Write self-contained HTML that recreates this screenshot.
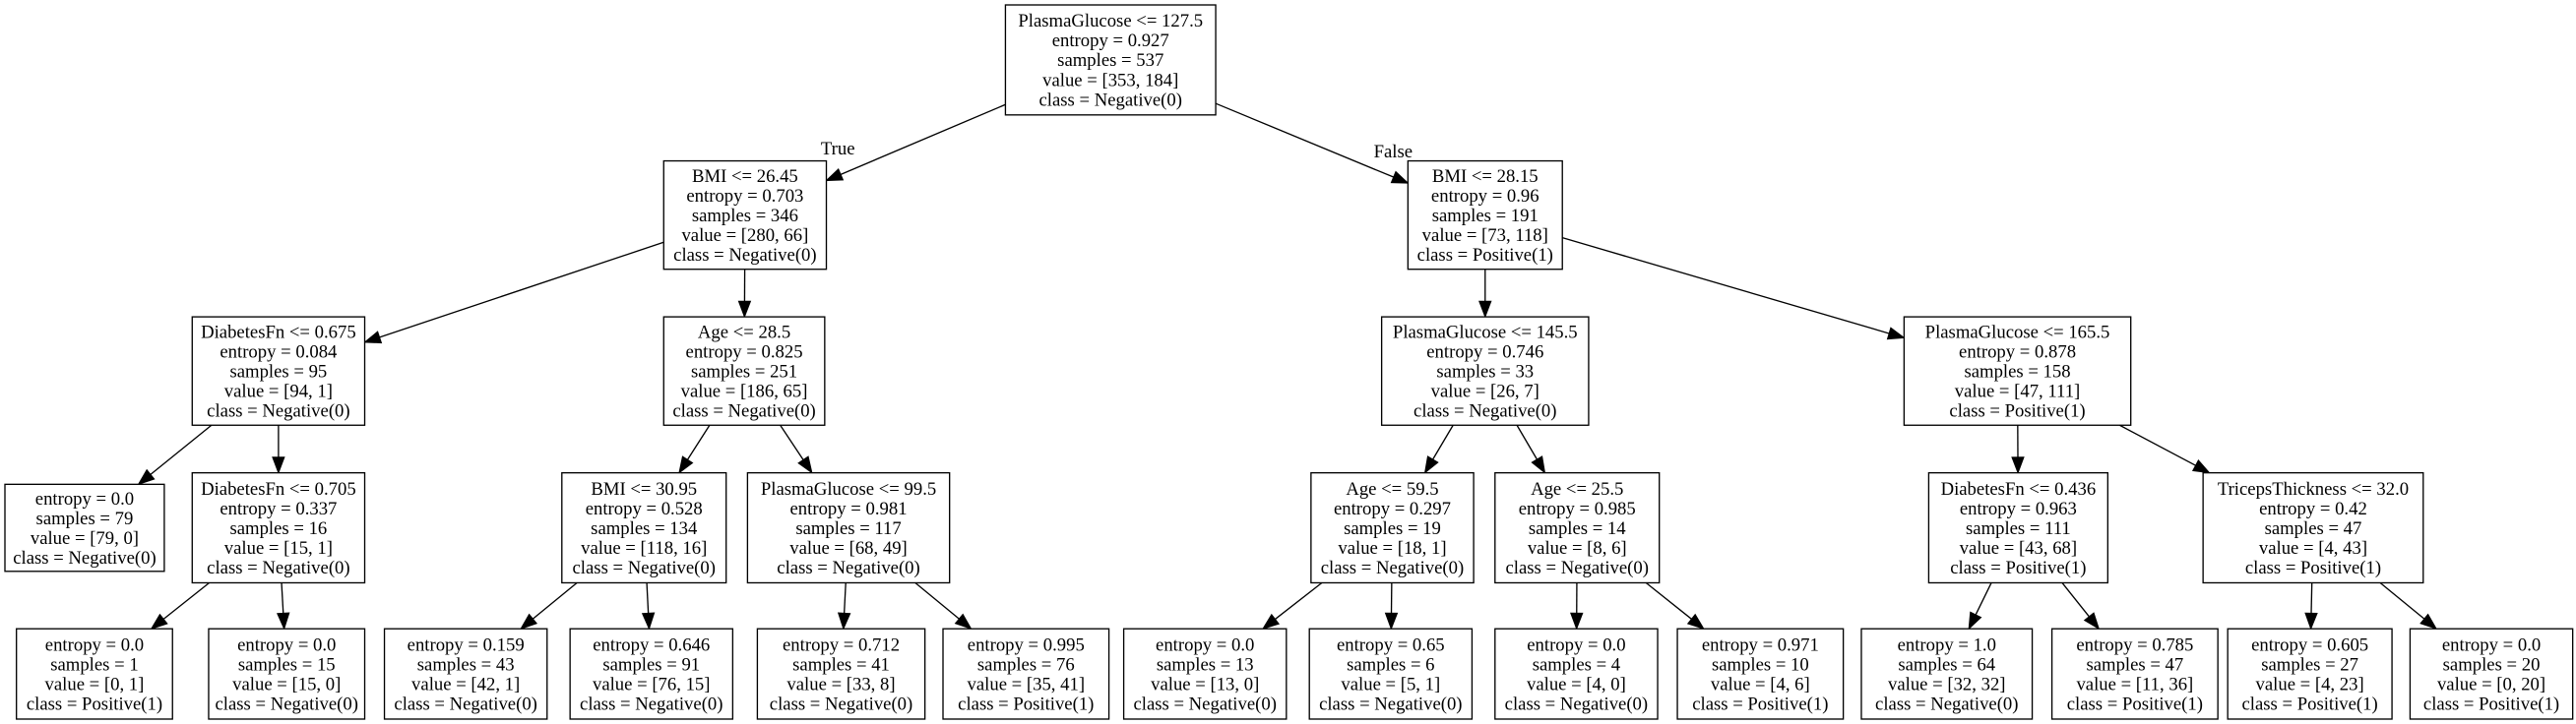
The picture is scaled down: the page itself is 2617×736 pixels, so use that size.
<!DOCTYPE html>
<html><head><meta charset="utf-8"><style>
html,body{margin:0;padding:0;background:#fff;}
svg{display:block;}
text{font-family:"Liberation Serif","Times New Roman",serif;font-size:11.2px;fill:#000;}
</style></head><body>
<svg id="s" xmlns="http://www.w3.org/2000/svg" width="2617" height="736" viewBox="0 0 1568 441" preserveAspectRatio="none">
<rect width="1568" height="441" fill="#fff"/>
<g id="e"></g><g id="n"></g>
<text x="510" y="94" text-anchor="middle">True</text>
<text x="848" y="96" text-anchor="middle">False</text>
</svg>
<script>
var N={
r:[612,740,3,70,["PlasmaGlucose <= 127.5","entropy = 0.927","samples = 537","value = [353, 184]","class = Negative(0)"]],
a:[404,503,98,164,["BMI <= 26.45","entropy = 0.703","samples = 346","value = [280, 66]","class = Negative(0)"]],
b:[857,951,98,164,["BMI <= 28.15","entropy = 0.96","samples = 191","value = [73, 118]","class = Positive(1)"]],
c:[117,222,193,259,["DiabetesFn <= 0.675","entropy = 0.084","samples = 95","value = [94, 1]","class = Negative(0)"]],
d:[404,502,193,259,["Age <= 28.5","entropy = 0.825","samples = 251","value = [186, 65]","class = Negative(0)"]],
f:[841,967,193,259,["PlasmaGlucose <= 145.5","entropy = 0.746","samples = 33","value = [26, 7]","class = Negative(0)"]],
g:[1159,1297,193,259,["PlasmaGlucose <= 165.5","entropy = 0.878","samples = 158","value = [47, 111]","class = Positive(1)"]],
h:[3,100,295,348,["entropy = 0.0","samples = 79","value = [79, 0]","class = Negative(0)"]],
i:[117,222,288,355,["DiabetesFn <= 0.705","entropy = 0.337","samples = 16","value = [15, 1]","class = Negative(0)"]],
j:[342,442,288,355,["BMI <= 30.95","entropy = 0.528","samples = 134","value = [118, 16]","class = Negative(0)"]],
k:[455,578,288,355,["PlasmaGlucose <= 99.5","entropy = 0.981","samples = 117","value = [68, 49]","class = Negative(0)"]],
l:[798,897,288,355,["Age <= 59.5","entropy = 0.297","samples = 19","value = [18, 1]","class = Negative(0)"]],
m:[910,1010,288,355,["Age <= 25.5","entropy = 0.985","samples = 14","value = [8, 6]","class = Negative(0)"]],
o:[1174,1283,288,355,["DiabetesFn <= 0.436","entropy = 0.963","samples = 111","value = [43, 68]","class = Positive(1)"]],
p:[1341,1475,288,355,["TricepsThickness <= 32.0","entropy = 0.42","samples = 47","value = [4, 43]","class = Positive(1)"]],
q1:[10,105,383,438,["entropy = 0.0","samples = 1","value = [0, 1]","class = Positive(1)"]],
q2:[127,222,383,438,["entropy = 0.0","samples = 15","value = [15, 0]","class = Negative(0)"]],
q3:[234,333,383,438,["entropy = 0.159","samples = 43","value = [42, 1]","class = Negative(0)"]],
q4:[347,446,383,438,["entropy = 0.646","samples = 91","value = [76, 15]","class = Negative(0)"]],
q5:[461,563,383,438,["entropy = 0.712","samples = 41","value = [33, 8]","class = Negative(0)"]],
q6:[574,675,383,438,["entropy = 0.995","samples = 76","value = [35, 41]","class = Positive(1)"]],
q7:[684,783,383,438,["entropy = 0.0","samples = 13","value = [13, 0]","class = Negative(0)"]],
q8:[797,896,383,438,["entropy = 0.65","samples = 6","value = [5, 1]","class = Negative(0)"]],
q9:[910,1009,383,438,["entropy = 0.0","samples = 4","value = [4, 0]","class = Negative(0)"]],
q10:[1021,1122,383,438,["entropy = 0.971","samples = 10","value = [4, 6]","class = Positive(1)"]],
q11:[1133,1237,383,438,["entropy = 1.0","samples = 64","value = [32, 32]","class = Negative(0)"]],
q12:[1249,1350,383,438,["entropy = 0.785","samples = 47","value = [11, 36]","class = Positive(1)"]],
q13:[1356,1456,383,438,["entropy = 0.605","samples = 27","value = [4, 23]","class = Positive(1)"]],
q14:[1467,1566,383,438,["entropy = 0.0","samples = 20","value = [0, 20]","class = Positive(1)"]]
};
var E=[["r","a"],["r","b"],["a","c"],["a","d"],["b","f"],["b","g"],["c","h"],["c","i"],["d","j"],["d","k"],["f","l"],["f","m"],["g","o"],["g","p"],["i","q1"],["i","q2"],["j","q3"],["j","q4"],["k","q5"],["k","q6"],["l","q7"],["l","q8"],["m","q9"],["m","q10"],["o","q11"],["o","q12"],["p","q13"],["p","q14"]];
var NS="http://www.w3.org/2000/svg",ng=document.getElementById("n"),eg=document.getElementById("e");
function el(t,a,p){var e=document.createElementNS(NS,t);for(var k in a)e.setAttribute(k,a[k]);p.appendChild(e);return e;}
for(var k in N){var b=N[k];el("rect",{x:b[0],y:b[2],width:b[1]-b[0],height:b[3]-b[2],fill:"#fff",stroke:"#000","stroke-width":0.8},ng);
var L=b[4],cx=(b[0]+b[1])/2,h=b[3]-b[2],st=b[2]+(h-12*L.length)/2+6;
for(var i=0;i<L.length;i++){var t=el("text",{x:cx,y:st+12*i+3.8,"text-anchor":"middle"},ng);t.textContent=L[i];}}
function clip(b,x,y,dx,dy){ // intersect ray from center toward (dx,dy) with box
var cx=(b[0]+b[1])/2,cy=(b[2]+b[3])/2,hw=(b[1]-b[0])/2,hh=(b[3]-b[2])/2;
var s=Math.min(dx?hw/Math.abs(dx):1e9,dy?hh/Math.abs(dy):1e9);return [cx+dx*s,cy+dy*s];}
E.forEach(function(p){var A=N[p[0]],B=N[p[1]];
var ax=(A[0]+A[1])/2,ay=(A[2]+A[3])/2,bx=(B[0]+B[1])/2,by=(B[2]+B[3])/2,dx=bx-ax,dy=by-ay;
var s=clip(A,0,0,dx,dy),t=clip(B,0,0,-dx,-dy);
var len=Math.hypot(t[0]-s[0],t[1]-s[1]),ux=(t[0]-s[0])/len,uy=(t[1]-s[1])/len,al=9.5,aw=3.6;
var bx2=t[0]-ux*al,by2=t[1]-uy*al;
el("line",{x1:s[0],y1:s[1],x2:bx2,y2:by2,stroke:"#000","stroke-width":0.8},eg);
el("polygon",{points:t[0]+","+t[1]+" "+(bx2-uy*aw)+","+(by2+ux*aw)+" "+(bx2+uy*aw)+","+(by2-ux*aw),fill:"#000",stroke:"#000","stroke-width":0.6},eg);});
</script>
</body></html>
